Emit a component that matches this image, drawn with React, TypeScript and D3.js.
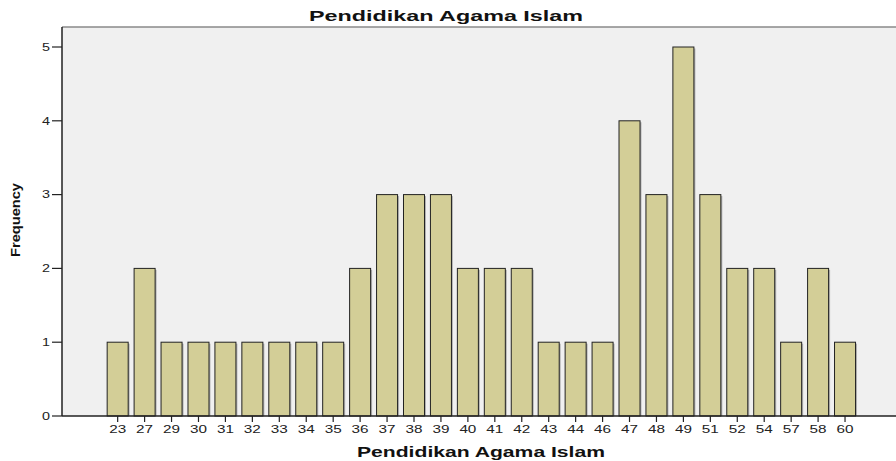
import React from "react";
import * as d3 from "d3";

// scores and how many students got each one
const scores = ["23", "27", "29", "30", "31", "32", "33", "34", "35", "36", "37", "38", "39", "40",
  "41", "42", "43", "44", "46", "47", "48", "49", "51", "52", "54", "57", "58", "60"];
const frequency = [1, 2, 1, 1, 1, 1, 1, 1, 1, 2, 3, 3, 3, 2, 2, 2, 1, 1, 1, 4, 3, 5, 3, 2, 2, 1, 2, 1];
const yTicks = [0, 1, 2, 3, 4, 5];

const chartTitle = "Pendidikan Agama Islam";
const xTitle = "Pendidikan Agama Islam";
const yTitle = "Frequency";

const width = 896;
const height = 461;
const plotLeft = 62;
const plotTop = 27;
const plotBottom = 416;

export default function App() {
  const xScale = d3
    .scaleBand<string>()
    .domain(scores)
    .range([104.2, 858.5])
    .paddingInner(0.22)
    .paddingOuter(0.11);

  const yScale = d3.scaleLinear().domain([0, 5]).range([plotBottom, 47]);

  const font = "'Liberation Sans', Arial, sans-serif";

  return (
    <svg
      width={width}
      height={height}
      style={{ position: "absolute", left: 0, top: 0, background: "#fff" }}
      fontFamily={font}
    >
      {/* plot background */}
      <rect x={plotLeft} y={plotTop} width={width - plotLeft} height={plotBottom - plotTop} fill="#f0f0f0" />
      <line x1={plotLeft} x2={width} y1={plotTop} y2={plotTop} stroke="#8a8a8a" strokeWidth={1.5} />

      {/* bars, with a soft shadow like spss draws */}
      {frequency.map((f, i) => {
        const x = xScale(scores[i])!;
        const y = yScale(f);
        const bw = xScale.bandwidth();
        return (
          <g key={scores[i]}>
            <rect x={x + 1.5} y={y + 1.5} width={bw} height={plotBottom - y - 1.5} fill="#8c8c8c" opacity={0.6} />
            <rect x={x} y={y} width={bw} height={plotBottom - y} fill="#d3ce97" stroke="#222" strokeWidth={1} />
          </g>
        );
      })}

      {/* y axis */}
      <line x1={plotLeft} x2={plotLeft} y1={plotTop} y2={plotBottom} stroke="#222" strokeWidth={1.5} />
      {yTicks.map((t) => (
        <g key={t} transform={`translate(0,${yScale(t)})`}>
          <line x1={plotLeft - 10} x2={plotLeft} stroke="#222" strokeWidth={1.2} />
          <text x={50} dy="0.35em" textAnchor="end" fontSize={11} fill="#222" textLength={8} lengthAdjust="spacingAndGlyphs">
            {t}
          </text>
        </g>
      ))}

      {/* x axis */}
      <line x1={plotLeft} x2={width} y1={plotBottom} y2={plotBottom} stroke="#222" strokeWidth={1.5} />
      {scores.map((s) => {
        const cx = xScale(s)! + xScale.bandwidth() / 2;
        return (
          <g key={s} transform={`translate(${cx},0)`}>
            <line y1={plotBottom} y2={plotBottom + 6} stroke="#222" strokeWidth={1.2} />
            <text x={0} y={433} textAnchor="middle" fontSize={11} fill="#222" textLength={17} lengthAdjust="spacingAndGlyphs">
              {s}
            </text>
          </g>
        );
      })}

      {/* titles */}
      <text x={446} y={21} textAnchor="middle" fontSize={15} fontWeight="bold" fill="#111" textLength={274} lengthAdjust="spacingAndGlyphs">
        {chartTitle}
      </text>
      <text x={481} y={457} textAnchor="middle" fontSize={15} fontWeight="bold" fill="#111" textLength={248} lengthAdjust="spacingAndGlyphs">
        {xTitle}
      </text>
      <text
        transform="translate(20,220) rotate(-90)"
        textAnchor="middle"
        fontSize={13}
        fontWeight="bold"
        fill="#111"
        textLength={74}
        lengthAdjust="spacingAndGlyphs"
      >
        {yTitle}
      </text>
    </svg>
  );
}
